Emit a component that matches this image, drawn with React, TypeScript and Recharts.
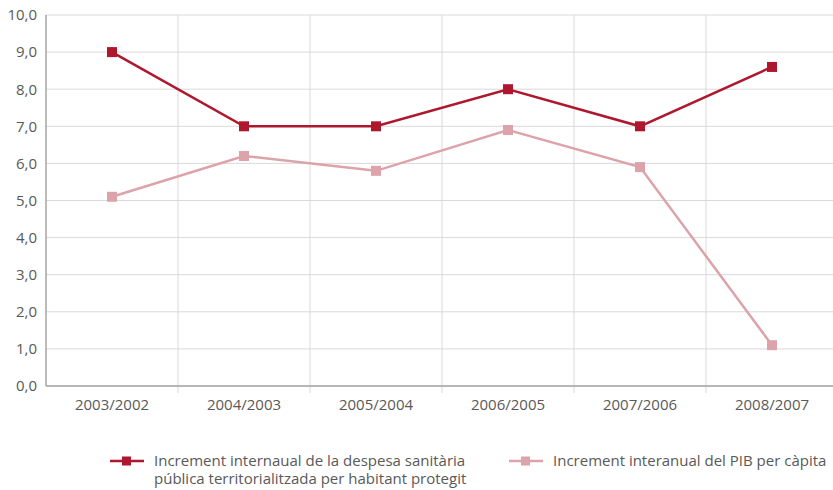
import React from 'react';
import { LineChart, Line, XAxis, YAxis, CartesianGrid, Legend } from 'recharts';

// Increments interanuals (%)
const periods = ['2003/2002', '2004/2003', '2005/2004', '2006/2005', '2007/2006', '2008/2007'];
const despesaSanitaria = [9.0, 7.0, 7.0, 8.0, 7.0, 8.6];
const pibPerCapita = [5.1, 6.2, 5.8, 6.9, 5.9, 1.1];
const yTicks = [0, 1, 2, 3, 4, 5, 6, 7, 8, 9, 10];

const seriesNames = {
  despesa: 'Increment internaual de la despesa sanitària pública territorialitzada per habitant protegit',
  pib: 'Increment interanual del PIB per càpita',
};

const DARK = '#AE172E';
const PINK = '#DDA3AA';
const TEXT = '#595959';
const GRID = '#D9D9D9';
const AXIS = '#A6A6A6';
const FONT = '"Open Sans", sans-serif';

const data = periods.map((p, i) => ({
  period: p,
  despesa: despesaSanitaria[i],
  pib: pibPerCapita[i],
}));

const fmt = (v: number) => v.toFixed(1).replace('.', ',');

// vertical separators sit between categories, not on them
const categoryBoundaries = ({ offset }: any) => {
  const n = periods.length;
  const out: number[] = [];
  for (let k = 1; k < n; k++) out.push(offset.left + (offset.width * k) / n);
  return out;
};

// separators run a few pixels past the category axis, like tick marks
const separatorLine = (props: any) => {
  const { x1, y1, x2, y2, key, index } = props;
  return (
    <line key={key ?? `v-${index}`} x1={x1} y1={y1} x2={x2} y2={y2 + 7} stroke={GRID} strokeWidth={1} fill="none" />
  );
};

const squareDot = (color: string) => (props: any) => {
  const { cx, cy, index } = props;
  if (cx == null || cy == null) return <g key={index} />;
  return <rect key={index} x={cx - 5} y={cy - 5} width={10} height={10} fill={color} />;
};

const LegendIcon = ({ color }: { color: string }) => (
  <svg width={34} height={12} style={{ position: 'absolute', left: 0, top: 4 }}>
    <line x1={0} y1={6} x2={34} y2={6} stroke={color} strokeWidth={2.5} />
    <rect x={12} y={1.5} width={9} height={9} fill={color} />
  </svg>
);

const ChartLegend = () => (
  <div style={{ position: 'relative', height: 40, fontFamily: FONT, fontSize: 15, color: TEXT, lineHeight: '18px' }}>
    <div style={{ position: 'absolute', left: 110, top: 0 }}>
      <LegendIcon color={DARK} />
      <div style={{ marginLeft: 44, width: 360 }}>
        Increment internaual de la despesa sanitària
        <br />
        pública territorialitzada per habitant protegit
      </div>
    </div>
    <div style={{ position: 'absolute', left: 509, top: 0 }}>
      <LegendIcon color={PINK} />
      <div style={{ marginLeft: 44, whiteSpace: 'nowrap' }}>{seriesNames.pib}</div>
    </div>
  </div>
);

export default function App() {
  return (
    <div style={{ position: 'fixed', top: 0, left: 0, width: 833, height: 490, overflow: 'hidden', background: '#fff' }}>
      <LineChart width={840} height={490} data={data} margin={{ top: 15, right: 2, left: 0, bottom: 74 }}>
        <CartesianGrid
          stroke={GRID}
          strokeWidth={1}
          verticalCoordinatesGenerator={categoryBoundaries}
          vertical={separatorLine}
        />
        <XAxis
          dataKey="period"
          padding={{ left: 66, right: 66 }}
          height={30}
          axisLine={{ stroke: AXIS, strokeWidth: 1.5 }}
          tickLine={false}
          tickMargin={7}
          tick={{ fill: TEXT, fontSize: 15, fontFamily: FONT }}
        />
        <YAxis
          width={46}
          domain={[0, 10]}
          ticks={yTicks}
          tickFormatter={fmt}
          axisLine={{ stroke: AXIS, strokeWidth: 1.5 }}
          tickLine={false}
          tickMargin={3}
          tick={{ fill: TEXT, fontSize: 15, fontFamily: FONT }}
        />
        <Legend
          verticalAlign="middle"
          align="center"
          layout="horizontal"
          wrapperStyle={{ top: 451, left: 0, width: 833, height: 40 }}
          content={() => <ChartLegend />}
        />
        <Line
          type="linear"
          dataKey="despesa"
          name={seriesNames.despesa}
          stroke={DARK}
          strokeWidth={2.5}
          dot={squareDot(DARK)}
          activeDot={false}
          isAnimationActive={false}
        />
        <Line
          type="linear"
          dataKey="pib"
          name={seriesNames.pib}
          stroke={PINK}
          strokeWidth={2.5}
          dot={squareDot(PINK)}
          activeDot={false}
          isAnimationActive={false}
        />
      </LineChart>
    </div>
  );
}
